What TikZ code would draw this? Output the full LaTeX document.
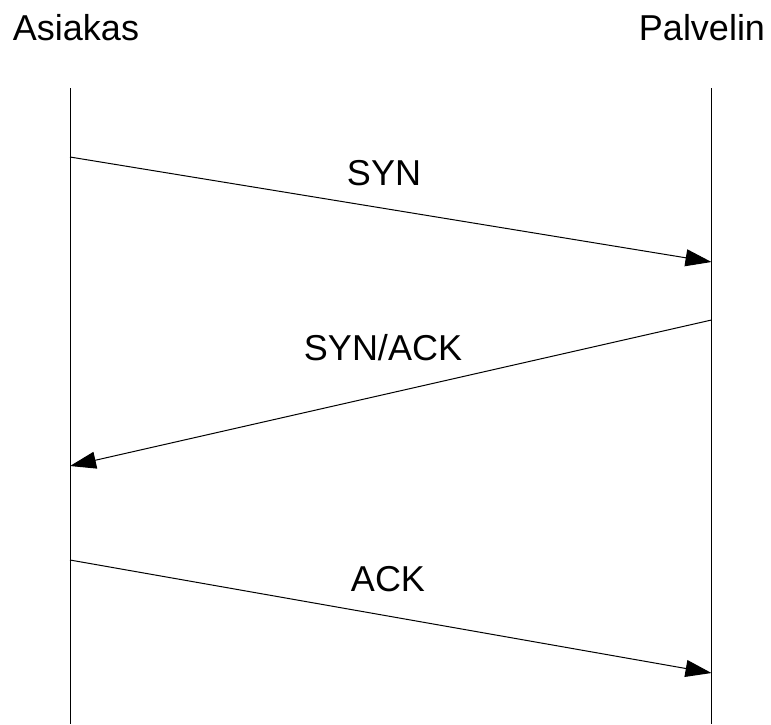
\documentclass[tikz,border=0pt]{standalone}
\usepackage{fontspec}
\setmainfont{Liberation Sans}
\usetikzlibrary{arrows.meta, positioning}

\tikzset{
  lifeline/.style={draw, line width=1pt},
  msg/.style={draw, line width=1pt, -{Triangle[length=26pt,width=17pt]}},
  lbl/.style={font=\fontsize{36}{40}\selectfont, inner sep=0pt, anchor=base}
}

\begin{document}
\begin{tikzpicture}[x=1pt,y=-1pt]
  \useasboundingbox (0,0) rectangle (771,724);

  % endpoints
  \node[lbl] (asiakas) at (76,40) {Asiakas};
  \node[lbl] (palvelin) at (702,40) {Palvelin};

  \coordinate (atop) at (70,88);
  \coordinate (abot) at (70,724);
  \coordinate (ptop) at (711.5,88);
  \coordinate (pbot) at (711.5,724);

  \draw[lifeline] (atop) -- (abot);
  \draw[lifeline] (ptop) -- (pbot);

  % messages
  \coordinate (syn1) at (70,157);
  \coordinate (syn2) at (711.5,262);
  \coordinate (sa1) at (711.5,320);
  \coordinate (sa2) at (70,466);
  \coordinate (ack1) at (70,560);
  \coordinate (ack2) at (711.5,673);

  \draw[msg] (syn1) -- (syn2);
  \draw[msg] (sa1) -- (sa2);
  \draw[msg] (ack1) -- (ack2);

  \node[lbl] (synlbl) at (384,185) {SYN};
  \node[lbl] (salbl) at (383,360) {SYN/ACK};
  \node[lbl] (acklbl) at (388,591) {ACK};
\end{tikzpicture}
\end{document}
